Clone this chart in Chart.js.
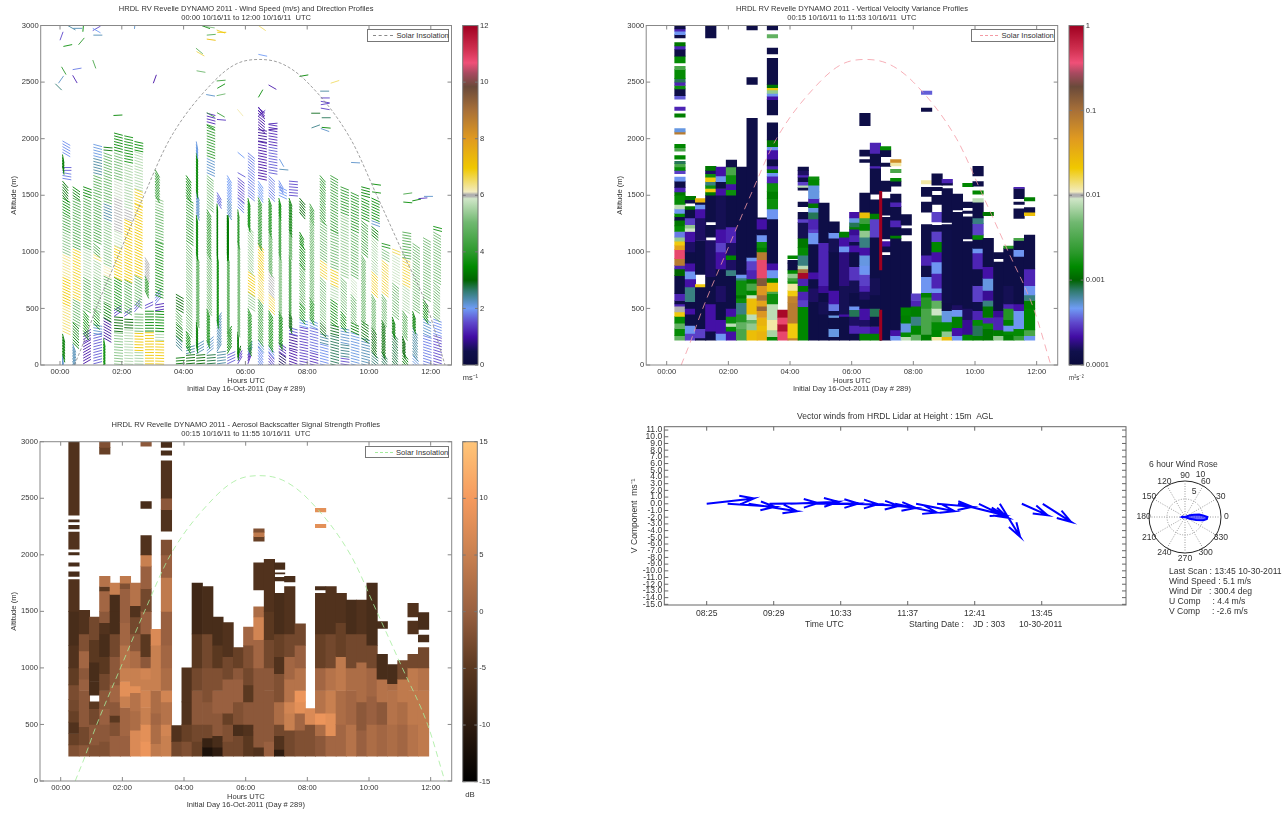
<!DOCTYPE html>
<html>
<head>
<meta charset="utf-8">
<title>HRDL RV Revelle DYNAMO 2011</title>
<script src="https://cdn.jsdelivr.net/npm/chart.js@4"></script>
<style>
	html, body { margin: 0; padding: 0; background: #fff; }
	body { position: relative; width: 1286px; height: 813px; overflow: hidden; font-family: "Liberation Sans", Arial, sans-serif; color: #333; }
	canvas { position: absolute; filter: blur(0.35px); }
	.txt { position: absolute; font-size: 8.6px; line-height: 10px; white-space: pre; }
	.legend { position: absolute; background: #fff; border: 1px solid #777; box-sizing: border-box; font-size: 7.6px; line-height: 11px; }
	.legend i { position: absolute; top: 5px; height: 0; border-top: 1px dashed; }
	.legend span { position: absolute; top: 0; white-space: pre; }
</style>
</head>
<body>
<script>

/*
 * DATA
 */
const hourTicks = [0, 2, 4, 6, 8, 10, 12];
const altitudeTicks = [0, 500, 1000, 1500, 2000, 2500, 3000];

const solarHours = [0.47, 0.75, 1.17, 1.94, 2.72, 3.56, 4.96, 5.7, 6.45, 7.2, 8.0, 9.4, 10.25, 11.08, 11.9, 12.46];
const solarAltitude = [0, 190, 500, 1000, 1500, 2000, 2500, 2660, 2700, 2660, 2500, 2000, 1500, 1000, 500, 0];

// wind speed / direction profiles: each band is [top altitude, speed m/s, stick angle deg], null speed = no return
const windHours = [0.08, 0.41, 0.75, 1.08, 1.41, 1.75, 2.08, 2.41, 2.75, 3.08, 3.41, 3.75, 4.08, 4.41, 4.75, 5.08, 5.41, 5.75, 6.08, 6.41, 6.75, 7.08, 7.41, 7.75, 8.08, 8.41, 8.75, 9.08, 9.41, 9.75, 10.08, 10.41, 10.75, 11.08, 11.41, 11.75, 12.08];
const windBands = [
	[[100,2.2,-85],[300,3.3,-75],[550,6.5,-25],[800,7,-25],[1000,6.4,-25],[1200,5.2,-25],[1350,4.4,-25],[1500,3.6,-30],[1650,3.2,-50],[1720,1.8,-10],[1760,1.6,0],[1880,3.3,-80],[2000,1.9,-30]],
	[[200,2.3,-70],[380,3.3,-45],[600,4.8,-30],[1050,6.8,-25],[1500,4.5,-25],[1600,3.4,-35]],
	[[200,1,30],[280,1.2,30],[500,3.5,-50],[800,4.6,-30],[1050,5.6,-25],[1500,4.5,-25],[1600,3.4,-20]],
	[[280,1.6,15],[370,2.2,-10],[500,3.5,-45],[800,5,-30],[950,5.5,-30],[1000,6.5,-25],[1100,4.5,-40],[1500,4.4,-25],[1700,4.6,-20],[1850,2.4,-15],[1960,2.1,-15]],
	[[240,3.6,-80],[420,0.9,-30],[560,3.3,-30],[800,4.8,-25],[900,6.2,-25],[1300,5.2,-25],[1450,2.4,-22],[1900,4.8,-20],[1950,3.2,-5]],
	[[300,5.2,-5],[430,3,-5],[500,1.4,35],[780,3.6,-30],[1060,6.9,-25],[1200,5.8,-25],[1500,6,-22],[1650,5.9,-22],[1900,5,-18],[2060,3.4,-15]],
	[[330,5.6,-3],[430,3,-3],[480,1.5,35],[760,4.5,-30],[1300,7,-25],[1400,6,-22],[1800,5.5,-18],[2050,3.6,-12]],
	[[130,5.5,-2],[300,7,-2],[470,5,-2],[540,1.6,50],[800,4.8,-30],[1430,7,-25],[1560,6.8,-22],[1900,5.6,-18],[2000,3.5,-12]],
	[[300,7,0],[500,3.4,0],[540,1.5,25],[660,null,0],[800,4,-65],[960,6,-60]],
	[[220,6.9,-2],[300,5.6,-2],[480,3.5,-3],[540,1.2,10],[620,1.8,50],[1100,3.7,-22],[1400,4.8,-20],[1500,5.3,-22],[1750,4,-60]],
	[],
	[[70,3.2,5],[180,null,0],[260,2.5,-45],[380,3.2,-40],[500,4.4,-45],[640,3,-30]],
	[[100,3,5],[170,2.4,15],[300,3.5,-60],[1100,5,-45],[1500,4,-35],[1700,3.4,-55]],
	[[100,3,5],[180,2.3,30],[400,3.3,-80],[1000,4.6,-70],[1350,3.4,-80],[1550,2.2,-70],[1900,3.4,-80],[1980,2.1,-80]],
	[[100,2.8,5],[220,2.2,40],[500,3.8,-70],[1000,5,-55],[1400,4,-60],[1700,5,-40],[1850,2.2,-25],[2150,4,-20],[2250,1.2,-15]],
	[[120,2.4,8],[400,2.3,60],[1000,3.6,-80],[1450,3.3,-85],[1530,1.7,-60]],
	[[100,1.6,25],[300,3.4,60],[1000,4.6,-75],[1350,3.3,-85],[1500,2.2,-60],[1700,2,-60]],
	[[70,1.4,60],[120,3,70],[320,3.3,-85],[1100,5,-75],[1400,4,-80],[1480,1.8,-45],[1680,1.5,-40]],
	[[90,1.2,70],[150,2.2,60],[520,3.8,-65],[650,5.3,-35],[850,6.9,-35],[1250,5.4,-50],[1500,3.5,-75],[1880,1.8,-40]],
	[[170,1.9,-55],[230,2.2,-50],[600,4.2,-55],[800,6.6,-50],[1080,6.9,-50],[1500,4,-65],[1650,2,-55],[1980,1,-12],[2100,0.9,-10],[2300,1,-40]],
	[[120,1.5,-50],[180,1.9,-50],[500,3.6,-60],[650,6.7,-45],[850,6,-50],[1200,4.8,-65],[1500,3.8,-70],[1700,1.8,-45],[1950,1.6,-10],[2130,1.2,-10]],
	[[120,0.6,-35],[200,1.2,-35],[500,3.4,-65],[1000,5.2,-70],[1350,4.2,-75],[1500,3.5,-75],[1580,2,-25],[1650,1.9,-60]],
	[[150,1,-20],[280,0.9,-15],[350,1.6,-15],[500,3,-70],[1000,4.4,-75],[1200,4.7,-70],[1500,3.3,-70],[1650,1.5,-5]],
	[[350,1.4,-12],[420,2,-15],[560,3.6,-50],[900,4.6,-50],[1100,3.4,-50],[1200,3.4,-60],[1350,null,0],[1500,3,-50]],
	[[130,1.3,-15],[350,1.7,-15],[420,2.1,-25],[600,3.8,-60],[1300,5,-60],[1450,4.2,-60]],
	[[200,1.9,-15],[300,2.4,-15],[400,3,-45],[800,5,-45],[950,6.7,-35],[1300,5,-35],[1700,4,-50]],
	[[280,2.7,-15],[380,2.9,-15],[600,3.6,-35],[720,5.6,-25],[870,6.8,-25],[1200,5,-22],[1700,4.2,-30]],
	[[80,1.5,-8],[200,2.5,-8],[350,2.2,-12],[500,3.5,-50],[800,5,-45],[1350,5.3,-25],[1580,4,-22]],
	[[300,2.1,-15],[400,3.3,-25],[650,5,-50],[800,5.8,-45],[1200,4.8,-30],[1550,3.9,-25]],
	[[240,2.3,-15],[400,3.1,-35],[1000,5,-60],[1300,4.2,-40],[1500,3.6,-25],[1600,3.4,-15]],
	[[130,2.6,-40],[350,3,-55],[650,5,-60],[850,6.8,-45],[1150,5.5,-45],[1250,3.3,-40],[1300,2.2,-20],[1500,3.5,-25]],
	[[120,2.7,-50],[400,3.1,-65],[650,5,-55],[950,6.7,-40],[1050,5.2,-30],[1080,3.8,-15]],
	[[300,2.8,-50],[450,3.3,-70],[750,5,-40],[1000,5.8,-30],[1050,6.6,-22]],
	[[130,3.3,-50],[280,3,-70],[500,4.5,-55],[720,5.6,-35],[950,6.7,-28],[1180,4.6,-10]],
	[[100,2.1,-45],[350,2.4,-55],[500,3.3,-70],[1100,5,-35]],
	[[280,1.8,-18],[430,2.2,-25],[600,3.4,-55],[1150,5,-30]],
	[[280,1.5,-18],[430,1.9,-20],[750,5,-40],[1200,5,-30],[1250,3.6,-15]]
];

// single sticks above the profiles: [hour, altitude, speed, angle]
const looseSticks = [
	[0,2870,1.5,70],[0.11,2815,3.6,12],[0.6,2830,4,50],[0.25,3000,2.4,-30],[0.43,2975,2.3,0],[0.74,2945,3.5,85],[1.06,2955,1.5,30],[1.06,2975,2,-30],[1.08,2915,2.3,0],[2.41,2970,2.2,85],
	[1.06,2695,4.5,-70],[0.05,2635,4,-60],[0.41,2610,1.8,10],[0.41,2560,1.2,-60],[-0.05,2490,2.2,55],[-0.15,2485,2.6,-45],[3.02,2490,1,70],[4.4,2800,4.8,-40],[4.42,2770,6.6,-30],[4.58,3000,3.4,-20],
	[4.72,2990,5.2,-8],[4.75,2915,4.6,5],[5.07,2960,6.8,-20],[5.09,2940,7,0],[4.75,2880,7.2,-8],[4.42,2600,5,-10],[5.07,2510,4.2,5],[5.09,2445,3.6,30],[5.07,2380,5,12],[4.73,2390,2.2,-10],
	[6.42,3000,6.5,-35],[6.42,2745,2,-12],[6.75,2475,1.1,-30],[6.42,2365,3.6,60],[5.74,2260,6.2,-50],[7.75,2550,3.4,10],[8.76,2490,6.5,18],[8.42,2420,2.4,0],[8.13,2225,2.9,0],[8.14,2095,2.5,20],
	[8.47,2100,3.4,-5],[8.47,2185,2.7,0],[8.44,2090,2.2,-20],[8.44,2360,1.4,0],[8.44,2330,1.4,-10],[8.44,2300,1.4,10],[8.44,2270,1.4,-10],[9.42,1790,2.2,-3],[10.1,1600,3.5,-8],[10.1,1530,3.6,-8],
	[11.11,1510,4.4,8],[11.78,1490,2.2,0],[11.11,1440,3.5,-5],[11.4,1450,3.4,12],[11.6,1470,1.3,5],[1.73,2205,3.4,3],[6.42,2200,1.2,40],[6.42,2250,1,-50],[6.75,2130,1.2,5],[6.75,2080,1,5],
	[6.42,2280,1.1,-55],[5.08,2230,4.2,-30],[5.08,2170,1.3,-5],[4.75,2230,4.3,-30],[4.75,2120,3.6,-30],[5.75,1880,2,-40],[5.75,1700,1.6,-30],[7.1,1820,2.1,-60],[7.1,1730,2.3,-5]
];

// vertical velocity variance: bands are [top altitude, variance m2/s2], null = no return
const varianceHours = [0.43, 0.77, 1.1, 1.43, 1.77, 2.1, 2.43, 2.77, 3.1, 3.43, 3.77, 4.1, 4.43, 4.77, 5.1, 5.43, 5.77, 6.1, 6.43, 6.77, 7.1, 7.43, 7.77, 8.1, 8.43, 8.77, 9.1, 9.43, 9.77, 10.1, 10.43, 10.77, 11.1, 11.43, 11.77];
const varianceBands = [
	[[260,4e-3],[320,1.5e-3],[370,4e-3],[430,1.5e-3],[470,2e-2],[520,1e-2],[540,2.5e-4],[570,1.3e-4],[630,2.5e-4],[790,1.3e-4],[850,1e-3],[880,2.5e-4],[940,8e-2],[1020,4e-1],[1060,4e-2],[1095,2e-2],[1130,6e-3],[1180,4e-4],[1230,1.5e-3],[1280,1.2e-3],[1310,1.3e-4],[1340,1.5e-3],[1380,4.5e-4],[1420,8e-3],[1500,1.5e-3],[1530,1.2e-3],[1570,2.5e-4],[1625,1.3e-4],[1660,4.5e-4],[1690,null],[1720,3e-4],[1750,1.5e-3],[1780,3e-3],[1800,8e-4],[1820,null],[1850,1.4e-3],[1890,null],[1920,3e-3],[1950,1.4e-3],[2040,null],[2060,8e-2],[2090,5e-4],[2190,null],[2220,1.3e-3],[2250,null],[2280,2.5e-4],[2350,null],[2380,3.5e-4],[2440,1.3e-4],[2470,1.6e-3],[2500,2.5e-4],[2530,8e-4],[2610,1.5e-3],[2640,3e-3],[2670,null],[2730,1.5e-3],[2790,1.3e-4],[2820,2.5e-4],[2850,1.2e-3],[2890,null],[2920,1.3e-4],[2950,4.5e-4],[2970,2.5e-4],[3000,1.3e-4]],
	[[280,3e-4],[350,4.5e-4],[450,1.3e-4],[500,2.2e-4],[560,1.3e-4],[690,7e-4],[760,2.2e-4],[830,4.5e-4],[900,2.2e-4],[1000,1.3e-4],[1090,1.6e-4],[1180,2.2e-4],[1210,9e-3],[1240,6e-3],[1300,3e-4],[1375,1.3e-4],[1400,1.2e-3],[1430,null],[1460,1.3e-4],[1490,1.2e-3]],
	[[240,1.3e-4],[320,3e-4],[690,1.3e-4],[710,2e-2],[800,null],[1100,1.3e-4],[1300,1.6e-4],[1380,2.2e-4],[1420,4.5e-4],[1440,1.3e-4],[1470,3e-2]],
	[[300,1.3e-4],[540,2.2e-4],[780,1.3e-4],[1100,1.6e-4],[1130,null],[1235,1.3e-4],[1265,null],[1500,1.3e-4],[1530,1.2e-3],[1560,2e-2],[1590,1.6e-3],[1620,7e-4],[1660,2e-2],[1690,1.6e-3],[1720,1.6e-4],[1755,1.2e-3],[2890,null],[3000,1.3e-4]],
	[[280,4.5e-4],[400,2.2e-4],[560,1.3e-4],[700,1.6e-4],[850,1.3e-4],[1000,2.2e-4],[1080,3e-4],[1200,2.2e-4],[1500,1.5e-4],[1560,2.2e-4],[1620,1.3e-4],[1670,4.5e-4],[1750,2.2e-4]],
	[[300,2.2e-4],[340,1.5e-3],[370,8e-3],[430,1.6e-3],[500,2.2e-4],[790,1.3e-4],[840,7e-4],[930,1.6e-4],[970,1.4e-3],[1080,1.6e-4],[1220,2.5e-4],[1500,1.3e-4],[1550,1.6e-3],[1600,2.2e-4],[1680,1.6e-3],[1750,3e-3],[1810,1.3e-4]],
	[[320,3e-3],[380,4e-3],[450,2e-3],[550,7e-4],[590,1.6e-3],[620,1.2e-3],[750,1.6e-3],[770,7e-4],[800,4.5e-4],[1750,1.3e-4]],
	[[310,2.5e-2],[370,6e-3],[400,4e-3],[450,8e-3],[590,2.5e-2],[620,9e-3],[660,1.4e-3],[720,3e-3],[760,1.2e-3],[840,2.5e-4],[920,3e-4],[950,4.5e-4],[2180,1.3e-4],[2480,null],[2540,1.3e-4],[2960,null],[3000,1.3e-4]],
	[[300,3e-2],[350,2.5e-2],[420,3e-2],[480,5e-2],[520,1.2e-1],[570,4e-2],[620,1e-1],[700,5e-2],[770,1.5e-1],[930,4e-1],[1000,8e-2],[1040,1.3e-3],[1090,1.6e-3],[1150,4.5e-4],[1200,1.3e-4],[1290,2.2e-4],[1300,1.3e-4]],
	[[250,1.4e-3],[310,7e-3],[400,1.2e-2],[540,8e-3],[630,1.6e-3],[650,3e-3],[730,2.5e-2],[770,1.4e-3],[840,4.5e-4],[900,2.2e-4],[1290,1.3e-4],[1380,4.5e-4],[1470,1.6e-3],[1535,1.3e-3],[1609,1.6e-3],[1668,2.5e-4],[1700,4.5e-4],[1730,1.2e-3],[1760,2.5e-4],[1820,1.3e-4],[1900,2.2e-4],[1930,4.5e-4],[1990,1.2e-3],[2140,1.3e-4],[2210,null],[2345,1.3e-4],[2375,2.2e-4],[2400,4.5e-4],[2430,6e-3],[2450,2e-2],[2480,1.2e-3],[2710,1.3e-4],[2750,null],[2800,1.3e-4],[2890,null],[2920,4e-3],[2960,null],[3000,1.3e-4]],
	[[300,4e-1],[360,8e-1],[420,4e-1],[485,9e-1]],
	[[240,7e-2],[370,2e-2],[550,8e-2],[610,7e-2],[660,2e-2],[720,1.2e-2],[740,1.6e-3],[770,2.5e-3],[810,6e-3],[840,1.4e-3],[900,1.3e-4],[925,1.3e-4],[940,null],[965,1.4e-3]],
	[[515,1.4e-3],[575,3e-4],[650,2.5e-4],[700,1.2e-3],[765,2.5e-4],[815,9e-1],[850,1e-1],[880,8e-3],[970,7e-4],[1040,1.5e-3],[1120,1.2e-3],[1260,1.5e-4],[1290,3e-4],[1350,1.3e-4],[1400,null],[1440,1.3e-4],[1545,null],[1570,1.3e-4],[1590,8e-3],[1620,3e-4],[1660,1.3e-4],[1680,2.5e-4],[1720,1.6e-4],[1750,1.3e-4]],
	[[560,1.3e-4],[680,1.6e-4],[760,1.3e-4],[820,2.2e-4],[1070,1.3e-4],[1170,4.5e-4],[1200,3e-4],[1290,2.5e-4],[1350,8e-4],[1390,5e-4],[1430,1.2e-3],[1470,2.5e-4],[1530,5e-4],[1590,5e-4],[1640,1.4e-3],[1662,1.6e-3]],
	[[450,1.3e-4],[560,1.5e-4],[640,1.3e-4],[700,2e-4],[1080,2.5e-4],[1430,1.3e-4]],
	[[250,1.3e-4],[320,5e-4],[370,1.3e-4],[420,1.3e-4],[440,5e-4],[480,1.4e-4],[540,4e-4],[660,2.2e-4],[1000,1.3e-4],[1120,1.5e-4],[1170,4.5e-4],[1265,1.3e-4]],
	[[430,1.3e-4],[450,2.2e-4],[700,1.5e-4],[1000,1.8e-4],[1050,4.5e-4],[1130,2.2e-4],[1175,1.3e-3]],
	[[280,1.3e-4],[350,2.5e-4],[430,1.6e-4],[490,8e-4],[520,4.5e-4],[640,1.3e-4],[750,1.5e-4],[870,2.8e-4],[1000,1.3e-4],[1060,2.2e-4],[1090,1.4e-4],[1150,2.5e-4],[1200,2e-4],[1220,1.3e-3],[1260,8e-4],[1300,5e-4],[1350,2.2e-4]],
	[[280,1.3e-3],[340,2.5e-4],[400,1.6e-4],[500,2.2e-4],[580,1.3e-4],[650,1.6e-4],[700,2.5e-4],[800,3e-4],[880,4.5e-4],[970,5e-4],[1040,2.2e-4],[1130,7e-4],[1190,6e-3],[1250,1.4e-3],[1300,2.5e-3],[1350,2.5e-2],[1520,1.3e-4],[1790,null],[1815,1.3e-4],[1845,null],[1900,1.3e-4],[2115,null],[2225,1.3e-4]],
	[[280,1.3e-3],[340,2.2e-4],[430,1.3e-4],[500,8e-4],[620,1.3e-4],[770,1.5e-4],[1130,1.3e-4],[1290,3e-4],[1340,1.3e-3],[1460,1.3e-4],[1510,null],[1740,1.3e-4],[1760,2.5e-4],[1870,1.3e-4],[1960,2.5e-4]],
	[[970,1.3e-4],[1000,null],[1050,1.3e-4],[1090,2.2e-4],[1115,null],[1305,1.3e-4],[1325,null],[1470,1.3e-4],[1535,null],[1625,1.3e-4],[1755,null],[1785,1.3e-4],[1840,null],[1900,1.3e-4],[1930,1.5e-3]],
	[[260,4.5e-4],[310,2.2e-4],[1120,1.3e-4],[1145,1.3e-3],[1220,1.3e-4],[1280,2.5e-4],[1400,1.3e-4],[1440,2.5e-4],[1510,1.3e-4],[1580,null],[1625,1.3e-4],[1650,1.5e-3],[1700,null],[1730,3e-3],[1760,null],[1790,1.2e-2],[1815,6e-2]],
	[[250,8e-3],[290,1.5e-3],[370,5e-4],[440,1.3e-3],[510,1.4e-3],[1090,1.3e-4],[1150,null],[1205,1.3e-4],[1235,null],[1330,1.3e-4]],
	[[270,4e-3],[350,1.4e-3],[430,7e-4],[520,1.3e-3],[570,2.5e-4],[630,3e-4]],
	[[270,1.3e-3],[500,3e-3],[600,2e-3],[640,1.3e-3],[780,4.5e-4],[880,1.4e-4],[970,2.5e-4],[1240,1.3e-4],[1350,null],[1440,1.3e-4],[1490,null],[1570,1.3e-4],[1600,null],[1630,1.2e-2],[2240,null],[2270,1.3e-4],[2390,null],[2420,3.5e-4]],
	[[250,1.2e-2],[310,1.4e-3],[380,1.5e-3],[440,2.5e-3],[500,9e-3],[570,4e-3],[640,2.5e-4],[680,4.5e-4],[810,2.5e-4],[910,4.5e-4],[1000,2.2e-4],[1090,1.4e-3],[1180,3e-4],[1235,1.3e-4],[1265,null],[1350,3e-4],[1420,null],[1500,1.3e-4],[1540,null],[1570,1.3e-4],[1590,null],[1690,1.3e-4]],
	[[250,2.5e-2],[300,6e-3],[380,1.5e-3],[480,5e-4],[550,1.3e-4],[1200,1.4e-4],[1240,1.3e-4],[1260,null],[1560,1.3e-4],[1590,null],[1610,1.3e-4],[1640,2.5e-4]],
	[[260,4.5e-4],[330,2.2e-4],[430,1.3e-3],[490,4.5e-4],[530,1.6e-4],[1350,1.3e-4],[1370,null],[1510,1.3e-4]],
	[[270,1.4e-3],[400,2e-4],[500,1.6e-4],[1090,1.3e-4],[1115,null],[1310,1.3e-4],[1340,null],[1360,1.3e-4],[1390,null],[1440,1.3e-4],[1575,null],[1605,1.4e-3]],
	[[260,1.3e-3],[350,8e-4],[400,1.5e-3],[480,2.5e-4],[560,1.4e-4],[700,3e-4],[850,1.3e-4],[990,2.5e-4],[1030,4.5e-4],[1110,1.3e-4],[1150,1.5e-3],[1250,3e-4],[1300,7e-4],[1440,1.3e-4],[1470,8e-3],[1510,null],[1540,1.4e-3],[1580,null],[1620,1.3e-4],[1670,null],[1755,1.3e-4]],
	[[320,1.2e-3],[370,1.6e-3],[420,2.5e-4],[520,1.2e-3],[570,7e-4],[660,2e-4],[765,5e-4],[870,2.2e-4],[1120,1.3e-4],[1320,null],[1350,1.2e-3]],
	[[260,6e-3],[310,1.3e-3],[420,2.5e-4],[480,2e-4],[910,1.3e-4],[940,null],[994,1.3e-4]],
	[[270,1.3e-3],[300,1.5e-3],[350,4.5e-4],[400,1.3e-3],[500,2e-3],[540,2.5e-4],[700,1.5e-4],[1030,1.3e-4],[1050,2e-3]],
	[[260,2.5e-3],[320,1.5e-3],[480,4.5e-4],[540,2.2e-4],[960,1.3e-4],[1020,4.5e-4],[1100,1.3e-4],[1120,3e-3],[1295,null],[1380,1.3e-4],[1420,null],[1440,1.3e-4],[1470,null],[1560,1.3e-4],[1570,2.5e-4]],
	[[260,4.5e-4],[310,3e-3],[500,1.4e-3],[570,1.3e-3],[620,7e-4],[700,4.5e-4],[850,2.5e-4],[1147,1.3e-4],[1320,null],[1350,2.5e-2],[1390,1.3e-4],[1450,null],[1480,1.3e-3]]
];

// the thin saturated profile near 07:00: [bottom, top, variance]
const spikeHour = 6.94;
const spikeBands = [[220, 485, 1], [840, 1535, 1]];

// aerosol backscatter: bands are [top altitude, dB], null = no return
const backscatterHours = [0.43, 0.77, 1.1, 1.43, 1.77, 2.1, 2.43, 2.77, 3.1, 3.43, 3.77, 4.1, 4.43, 4.77, 5.1, 5.43, 5.77, 6.1, 6.43, 6.77, 7.1, 7.43, 7.77, 8.1, 8.43, 8.77, 9.1, 9.43, 9.77, 10.1, 10.43, 10.77, 11.1, 11.43, 11.77];
const backscatterBands = [
	[[320,-2],[420,-4],[520,-6],[620,-4],[720,-3],[850,-2.5],[1000,-4.5],[1200,-6],[1500,-7],[1780,-6],[1810,null],[1850,-7],[1900,null],[1930,-7],[2000,null],[2020,-7],[2050,null],[2200,-6],[2230,null],[2260,-7],[2290,null],[2310,-7],[2350,null],[3000,-6]],
	[[320,-1],[480,-3],[640,-1],[800,-1],[900,0],[1000,-1],[1150,1],[1300,-2],[1510,-6]],
	[[320,-2],[500,-1],[640,-3],[700,-5],[760,null],[880,-7],[1050,-7],[1250,-5],[1450,-3]],
	[[350,-2],[500,-1],[640,0],[800,-1],[950,-3],[1100,-5],[1300,-7],[1400,-6],[1500,-1],[1680,1],[1720,-5],[1810,3],[2890,null],[2950,-4],[3000,-2]],
	[[400,0],[520,-2],[580,-5],[700,-1],[850,1],[1100,-1],[1300,-3],[1500,-7],[1650,-7],[1750,5]],
	[[400,0],[650,1],[750,5],[880,8],[1000,5],[1200,3],[1400,1],[1700,0],[1750,-2],[1810,4]],
	[[450,7],[620,2],[780,3],[840,8],[1000,5],[1150,2],[1300,-1],[1450,-3],[1550,-6],[1750,3]],
	[[350,9],[500,8],[650,5],[800,6],[900,5],[1000,6],[1100,-1],[1300,-5],[1500,0],[1700,-3],[1900,0],[2000,5],[2170,-6],[2410,null],[2470,-7],[2960,null],[3000,-1]],
	[[330,4],[500,2],[600,1],[800,2],[1000,5],[1200,5],[1340,7]],
	[[400,5],[500,6],[700,3],[800,6],[1000,2],[1200,1],[1500,0],[1800,4],[2000,0],[2130,-2],[2210,null],[2400,-6],[2500,-1],[2830,-6],[2880,null],[2920,-7],[2950,null],[3000,-7]],
	[[350,-3],[490,-6]],
	[[350,-2],[500,-4],[700,-6],[1000,-6]],
	[[350,-4],[500,-3],[800,-1],[1000,-3],[1300,-5],[1750,-8]],
	[[300,-12],[380,-9],[500,-3],[700,-1],[1000,-2],[1300,-3],[1720,-7]],
	[[300,-10],[400,-7],[600,-1],[800,0],[1000,-2],[1200,-5],[1450,-7]],
	[[350,-3],[500,-2],[600,-4],[900,0],[1100,-3],[1400,-6]],
	[[400,-3],[500,-7],[700,-2],[900,0],[1000,-1],[1180,-4]],
	[[400,-5],[500,-6],[700,-1],[850,-5],[1000,-3],[1200,-2],[1360,1]],
	[[300,-6],[450,-1],[700,-1],[1000,-1],[1250,1],[1450,6],[1540,2],[1690,null],[1930,-6],[2120,null],[2160,-4],[2200,4],[2230,-2]],
	[[350,0],[500,-1],[800,-1],[1000,-1],[1250,-3],[1500,-5],[1960,-6]],
	[[280,-10],[400,-6],[500,-3],[700,2],[950,-2],[1100,-6],[1300,-4],[1660,-7],[1770,null],[1800,-7],[1830,null],[1840,-7],[1870,null],[1930,-7]],
	[[450,-3],[600,5],[700,6],[900,3],[1100,1],[1300,-3],[1720,-6],[1760,null],[1810,-7]],
	[[450,-2],[600,1],[700,8],[800,9],[1000,3],[1200,0],[1390,-3]],
	[[500,-2],[640,7]],
	[[400,-1],[500,2],[600,9],[800,3],[1000,1],[1300,-4],[1660,-6],[1690,null],[1720,-7],[2240,null],[2270,8],[2380,null],[2410,8]],
	[[400,1],[600,8],[800,5],[1000,3],[1300,-3],[1720,-6]],
	[[500,1],[800,2],[1100,4],[1400,-4],[1660,-6]],
	[[500,3],[800,1],[1000,2],[1300,-3],[1600,-7]],
	[[450,0],[700,-1],[1050,2],[1300,-3],[1600,-6]],
	[[500,2],[750,0],[1000,1],[1200,-3],[1750,-7]],
	[[500,1],[700,-1],[900,3],[1120,-7],[1350,null],[1410,-7]],
	[[500,2],[800,3],[860,2],[1030,-7]],
	[[500,1],[700,2],[900,4],[1065,-3]],
	[[500,3],[800,4],[1000,4],[1120,-3],[1300,null],[1415,-6],[1450,null],[1570,-6]],
	[[500,4],[800,4],[1000,3],[1180,-3],[1230,null],[1290,-7],[1340,null],[1490,-7]]
];

const profileBase = 220;

// vector winds at 15 m
const vectorTickMinutes = [0, 64, 128, 192, 256, 320];
const vectorTickLabels = ['08:25', '09:29', '10:33', '11:37', '12:41', '13:45'];
const vectorValueTicks = [11, 10, 9, 8, 7, 6, 5, 4, 3, 2, 1, 0, -1, -2, -3, -4, -5, -6, -7, -8, -9, -10, -11, -12, -13, -14, -15];
const vectorMinutes = [0, 20, 40, 60, 80, 100, 120, 140, 160, 180, 200, 220, 240, 260, 280, 301, 321];
const vectorU = [7, 7, 7.2, 7.2, 7.1, 7, 6.8, 6.8, 6.2, 6.2, 5.7, 5.2, 6.9, 4.3, 3, 3.8, 4.2];
const vectorV = [0.8, -0.45, -1.1, 0.1, 0.3, 0.05, -0.05, -0.3, -0.6, -1.3, -1.1, -0.45, -1.7, -2.1, -4.9, -1.7, -2.7];

// wind rose radius every 5 degrees clockwise, starting from 90
const roseLabels = [90, 85, 80, 75, 70, 65, 60, 55, 50, 45, 40, 35, 30, 25, 20, 15, 10, 5, 0, 355, 350, 345, 340, 335, 330, 325, 320, 315, 310, 305, 300, 295, 290, 285, 280, 275, 270, 265, 260, 255, 250, 245, 240, 235, 230, 225, 220, 215, 210, 205, 200, 195, 190, 185, 180, 175, 170, 165, 160, 155, 150, 145, 140, 135, 130, 125, 120, 115, 110, 105, 100, 95];
const roseRadius = [0, 0, 0, 0, 0, 0, 0, 0, 0, 0, 0, 0, 0, 0, 1.5, 2.5, 4, 5, 6.2, 6.1, 5.2, 3.2, 1.4, 0.6, 0, 0, 0, 0, 0, 0, 0, 0, 0, 0, 0, 0, 0, 0, 0, 0, 0, 0, 0, 0, 0, 0, 0, 0, 0, 0, 0, 0, 0, 0.7, 0.9, 0.8, 0.4, 0, 0, 0, 0, 0, 0, 0, 0, 0, 0, 0, 0, 0, 0, 0];
const roseSpokes = [0, 30, 60, 90, 120, 150, 180, 210, 240, 270, 300, 330];
const roseRings = [[5, 7.5], [10, 12.6]];

const infoLines = ['Last Scan : 13:45 10-30-2011', 'Wind Speed : 5.1 m/s', 'Wind Dir   : 300.4 deg', 'U Comp     : 4.4 m/s', 'V Comp     : -2.6 m/s'];


/*
 * COLOURS
 */
const rainbowStops = [[0,'#0a0a3c'],[0.04,'#10104c'],[0.083,'#420ca4'],[0.125,'#5f48cc'],[0.167,'#6f9cf5'],[0.22,'#2e7a6a'],[0.25,'#006400'],[0.29,'#008a00'],[0.33,'#2a982a'],[0.42,'#70b870'],[0.49,'#d0e6c8'],[0.497,'#b0b0b0'],[0.503,'#b0b0b0'],[0.51,'#f2ecc0'],[0.58,'#f0c800'],[0.667,'#e09a20'],[0.75,'#a87038'],[0.82,'#6a4a3a'],[0.86,'#a84a60'],[0.89,'#f05078'],[0.93,'#d03050'],[1,'#a00020']];
const copperStops = [[0,'#000000'],[0.167,'#2e1c10'],[0.333,'#5a3820'],[0.5,'#996040'],[0.667,'#c88050'],[0.833,'#f59a5e'],[1,'#ffc578']];

function hexToRgb(hex) {
	return [1, 3, 5].map(i => parseInt(hex.substr(i, 2), 16));
}

function stopColor(stops, f) {
	f = Math.min(1, Math.max(0, f));
	for (let i = 1; i < stops.length; i++) {
		if (f <= stops[i][0]) {
			const a = hexToRgb(stops[i - 1][1]), b = hexToRgb(stops[i][1]);
			const t = (f - stops[i - 1][0]) / (stops[i][0] - stops[i - 1][0]);
			return 'rgb(' + a.map((v, k) => Math.round(v + (b[k] - v) * t)).join(',') + ')';
		}
	}
	return stops[stops.length - 1][1];
}


/*
 * HELPERS
 */
Chart.defaults.font.family = '"Liberation Sans", Arial, sans-serif';
Chart.defaults.font.size = 7.6;
Chart.defaults.color = '#333';
Chart.defaults.animation = false;
Chart.defaults.responsive = false;
Chart.defaults.plugins.legend.display = false;
Chart.defaults.plugins.tooltip.enabled = false;

// matlab style box with ticks pointing inward on all sides
const boxPlugin = {
	id: 'box',
	afterLayout(chart) {
		// centre the title over the plot, not the canvas
		const t = chart.titleBlock;
		if (t && t.options.display) {
			t.left = chart.chartArea.left;
			t.right = chart.chartArea.right;
		}
	},
	afterDatasetsDraw(chart, args, opts) {
		const { ctx, chartArea: a, scales } = chart;
		const len = opts.tick === undefined ? 4 : opts.tick;
		ctx.save();
		ctx.strokeStyle = opts.color || '#888';
		ctx.lineWidth = 1;
		ctx.strokeRect(a.left, a.top, a.right - a.left, a.bottom - a.top);
		ctx.beginPath();
		if (!opts.noX) {
			scales.x.ticks.forEach(t => {
				const x = scales.x.getPixelForValue(t.value);
				ctx.moveTo(x, a.bottom); ctx.lineTo(x, a.bottom - len);
				ctx.moveTo(x, a.top); ctx.lineTo(x, a.top + len);
			});
		}
		scales.y.ticks.forEach(t => {
			const y = scales.y.getPixelForValue(t.value);
			ctx.moveTo(a.left, y); ctx.lineTo(a.left + len, y);
			ctx.moveTo(a.right, y); ctx.lineTo(a.right - len, y);
		});
		ctx.stroke();
		ctx.restore();
	}
};

function addCanvas(left, top, width, height) {
	const c = document.createElement('canvas');
	c.width = width;
	c.height = height;
	c.style.left = left + 'px';
	c.style.top = top + 'px';
	c.style.width = width + 'px';
	c.style.height = height + 'px';
	document.body.appendChild(c);
	return c.getContext('2d');
}

function addText(left, top, text, css) {
	const d = document.createElement('div');
	d.className = 'txt';
	d.style.left = left + 'px';
	d.style.top = top + 'px';
	d.textContent = text;
	if (css) d.style.cssText += css;
	document.body.appendChild(d);
	return d;
}

function addLegend(left, top, right, bottom, lineLeft, lineRight, textLeft, color, dash) {
	const d = document.createElement('div');
	d.className = 'legend';
	d.style.cssText = `left:${left}px;top:${top}px;width:${right - left}px;height:${bottom - top}px`;
	const line = document.createElement('i');
	line.style.cssText = `left:${lineLeft - left}px;width:${lineRight - lineLeft}px;border-top:1px ${dash} ${color}`;
	const label = document.createElement('span');
	label.style.left = (textLeft - left) + 'px';
	label.textContent = 'Solar Insolation';
	d.appendChild(line);
	d.appendChild(label);
	document.body.appendChild(d);
}

function solarDataset(color, dash) {
	return {
		type: 'line',
		order: 0,
		data: solarHours.map((h, i) => ({ x: h, y: solarAltitude[i] })),
		borderColor: color,
		borderWidth: 0.8,
		borderDash: dash,
		cubicInterpolationMode: 'monotone',
		pointRadius: 0
	};
}

function hourLabel(h) {
	return String(h).padStart(2, '0') + ':00';
}

// a bar dataset with one floating bar per band
function bandDataset(hours, bands, toColor, thickness) {
	const data = [], colors = [];
	bands.forEach((column, i) => {
		let bottom = profileBase;
		column.forEach(([top, value]) => {
			if (value !== null) {
				data.push({ x: hours[i], y: [bottom, top] });
				colors.push(toColor(value));
			}
			bottom = top;
		});
	});
	return { type: 'bar', order: 1, data: data, backgroundColor: colors, barThickness: thickness, grouped: false };
}

function profileChart(p) {
	const w = p.width;
	const h = p.height;
	new Chart(addCanvas(p.left, p.top, w, h), {
		type: 'bar',
		data: { datasets: p.datasets },
		options: {
			layout: { padding: { right: w - (p.plotRight - p.left) } },
			plugins: {
				title: {
					display: true,
					text: p.title,
					color: '#333',
					font: { size: 7.55, weight: 'normal', lineHeight: 1.14 },
					padding: { top: p.plotTop - p.top - 17.2 - 3.5, bottom: 3.5 }
				},
				box: {}
			},
			scales: {
				x: {
					type: 'linear',
					offset: false,
					min: (p.plotLeft - p.zero) / p.perHour,
					max: (p.plotRight - p.zero) / p.perHour,
					afterFit: s => { s.height = h - (p.plotBottom - p.top); },
					afterBuildTicks: s => { s.ticks = hourTicks.map(v => ({ value: v })); },
					grid: { display: false, drawTicks: false },
					border: { display: false },
					ticks: { padding: 2, maxRotation: 0, autoSkip: false, callback: v => hourLabel(v) },
					title: {
						display: true,
						text: ['Hours UTC', 'Initial Day 16-Oct-2011 (Day # 289)'],
						color: '#333',
						font: { size: 7.55, lineHeight: 1.12 },
						padding: { bottom: h - (p.footY - p.top) - 4.2 }
					}
				},
				y: {
					min: 0,
					max: 3000,
					afterFit: s => { s.width = p.plotLeft - p.left; },
					afterBuildTicks: s => { s.ticks = altitudeTicks.map(v => ({ value: v })); },
					grid: { display: false, drawTicks: false },
					border: { display: false },
					ticks: { padding: 2, autoSkip: false, callback: v => String(v) },
					title: {
						display: true,
						text: 'Altitude (m)',
						color: '#333',
						font: { size: 7.6, lineHeight: 1.2 },
						padding: { top: p.yTitleX - p.left - 4.6 }
					}
				}
			}
		},
		plugins: [boxPlugin]
	});
}

function colorBar(c) {
	const left = Math.floor(c.plotLeft) - 1;
	const top = Math.floor(c.plotTop) - 6;
	const width = Math.ceil(c.plotRight - left) + 34;
	const height = Math.ceil(c.plotBottom - top) + 24;
	new Chart(addCanvas(left, top, width, height), {
		type: 'bar',
		data: {
			labels: [''],
			datasets: [{
				data: [[c.min, c.max]],
				barPercentage: 1,
				categoryPercentage: 1,
				backgroundColor: context => {
					const area = context.chart.chartArea;
					if (!area) return '#fff';
					const g = context.chart.ctx.createLinearGradient(0, area.bottom, 0, area.top);
					c.stops.forEach(s => g.addColorStop(s[0], stopColor(c.stops, s[0])));
					return g;
				}
			}]
		},
		options: {
			layout: { padding: { left: c.plotLeft - left, top: c.plotTop - top } },
			plugins: { box: { noX: true, tick: 3, color: '#777' } },
			scales: {
				x: {
					afterFit: s => { s.height = height - (c.plotBottom - top); },
					grid: { display: false, drawTicks: false },
					border: { display: false },
					ticks: { display: false },
					title: { display: true, text: c.unit, color: '#333', font: { size: 7.8 }, padding: { top: 3, bottom: 6 } }
				},
				y: {
					type: c.log ? 'logarithmic' : 'linear',
					position: 'right',
					min: c.min,
					max: c.max,
					afterFit: s => { s.width = width - (c.plotRight - left); },
					afterBuildTicks: s => { s.ticks = c.ticks.map(v => ({ value: v })); },
					grid: { display: false, drawTicks: false },
					border: { display: false },
					ticks: { padding: 2, autoSkip: false, callback: v => String(v) }
				}
			}
		},
		plugins: [boxPlugin]
	});
}


/*
 * WIND SPEED AND DIRECTION
 */
const stickHours = 0.29;
const stickMetres = 79;
const gateMetres = 25;

const stickPoints = [];
const stickColors = [];

function pushStick(hour, alt, speed, angle) {
	const rad = angle * Math.PI / 180;
	stickPoints.push({ x: hour, y: alt });
	stickColors.push(stopColor(rainbowStops, speed / 12));
	stickPoints.push({ x: hour + stickHours * Math.cos(rad), y: alt + stickMetres * Math.sin(rad) });
	stickColors.push(null);
	stickPoints.push({ x: hour, y: NaN });
	stickColors.push(null);
}

windBands.forEach((column, i) => {
	let bottom = 10;
	column.forEach(([top, speed, angle]) => {
		if (speed !== null) {
			for (let alt = bottom; alt < top; alt += gateMetres) pushStick(windHours[i], alt, speed, angle);
		}
		bottom = top;
	});
});
looseSticks.forEach(s => pushStick(s[0], s[1], s[2], s[3]));

profileChart({
	left: 0, top: 0, width: 492, height: 405,
	plotLeft: 40.7, plotRight: 451.5, plotTop: 25.5, plotBottom: 365,
	zero: 60, perHour: 30.9, footY: 389, yTitleX: 14.3,
	title: ['HRDL RV Revelle DYNAMO 2011 - Wind Speed (m/s) and Direction Profiles', '00:00 10/16/11 to 12:00 10/16/11  UTC'],
	datasets: [
		solarDataset('#888', [3, 2]),
		{
			type: 'line',
			order: 1,
			data: stickPoints,
			borderWidth: 0.9,
			pointRadius: 0,
			spanGaps: false,
			segment: { borderColor: ctx => stickColors[ctx.p0DataIndex] || 'transparent' }
		}
	]
});
colorBar({ plotLeft: 462.7, plotRight: 478, plotTop: 25.5, plotBottom: 365, stops: rainbowStops, min: 0, max: 12, ticks: [0, 2, 4, 6, 8, 10, 12], unit: 'ms\u207B\u00B9' });
addLegend(366.5, 29, 448.5, 42, 372, 392, 395.5, '#888', 'dashed');


/*
 * VERTICAL VELOCITY VARIANCE
 */
profileChart({
	left: 600, top: 0, width: 504, height: 405,
	plotLeft: 646.2, plotRight: 1057.7, plotTop: 25.5, plotBottom: 365,
	zero: 666.7, perHour: 30.83, footY: 389, yTitleX: 620,
	title: ['HRDL RV Revelle DYNAMO 2011 - Vertical Velocity Variance Profiles', '00:15 10/16/11 to 11:53 10/16/11  UTC'],
	datasets: [
		solarDataset('#f49aa4', [7, 5]),
		{
			type: 'bar',
			order: 1,
			data: spikeBands.map(b => ({ x: spikeHour, y: [b[0], b[1]] })),
			backgroundColor: spikeBands.map(b => stopColor(rainbowStops, (Math.log10(b[2]) + 4) / 4)),
			barThickness: 2.4,
			grouped: false
		},
		bandDataset(varianceHours, varianceBands, v => stopColor(rainbowStops, (Math.log10(v) + 4) / 4), 10.5)
	]
});
colorBar({ plotLeft: 1069, plotRight: 1083.7, plotTop: 25.5, plotBottom: 365, stops: rainbowStops, log: true, min: 0.0001, max: 1, ticks: [0.0001, 0.001, 0.01, 0.1, 1], unit: 'm\u00B2s\u207B\u00B2' });
addLegend(971, 29, 1055, 42, 979, 997, 1000.5, '#f49aa4', 'dashed');


/*
 * AEROSOL BACKSCATTER
 */
profileChart({
	left: 0, top: 415, width: 492, height: 398,
	plotLeft: 40, plotRight: 451.7, plotTop: 441.7, plotBottom: 781,
	zero: 60.7, perHour: 30.83, footY: 805, yTitleX: 14.3,
	title: ['HRDL RV Revelle DYNAMO 2011 - Aerosol Backscatter Signal Strength Profiles', '00:15 10/16/11 to 11:55 10/16/11  UTC'],
	datasets: [
		solarDataset('#a4ec9c', [6, 4]),
		bandDataset(backscatterHours, backscatterBands, v => stopColor(copperStops, (v + 15) / 30), 10.5)
	]
});
colorBar({ plotLeft: 462.7, plotRight: 477.3, plotTop: 441.7, plotBottom: 781.7, stops: copperStops, min: -15, max: 15, ticks: [-15, -10, -5, 0, 5, 10, 15], unit: 'dB' });
addLegend(365, 445.5, 448.5, 458, 374, 392, 395, '#a4ec9c', 'dashed');


/*
 * VECTOR WINDS
 */
const minutesPerMs = 6.43;
const headLength = 2.2;
const headAngle = 0.3;
const arrowPoints = [];
vectorMinutes.forEach((t, i) => {
	const u = vectorU[i], v = vectorV[i];
	const dir = Math.atan2(v, u);
	const tip = { x: t + u * minutesPerMs, y: v };
	const barb = a => ({ x: t + (u - headLength * Math.cos(dir + a)) * minutesPerMs, y: v - headLength * Math.sin(dir + a) });
	arrowPoints.push({ x: t, y: 0 }, tip, barb(headAngle), tip, barb(-headAngle), { x: t, y: NaN });
});

new Chart(addCanvas(620, 405, 550, 225), {
	type: 'line',
	data: {
		datasets: [{ data: arrowPoints, borderColor: '#0000ff', borderWidth: 2, pointRadius: 0, spanGaps: false, borderJoinStyle: 'miter' }]
	},
	options: {
		layout: { padding: { right: 44 } },
		plugins: {
			title: {
				display: true,
				text: 'Vector winds from HRDL Lidar at Height : 15m  AGL',
				color: '#333',
				font: { size: 8.5, weight: 'normal', lineHeight: 1.2 },
				padding: { top: 6.5, bottom: 5 }
			},
			box: { color: '#666', tick: 4 }
		},
		scales: {
			x: {
				type: 'linear',
				min: -40.5,
				max: 400.5,
				afterFit: s => { s.height = 25; },
				afterBuildTicks: s => { s.ticks = vectorTickMinutes.map(v => ({ value: v })); },
				grid: { display: false, drawTicks: false },
				border: { display: false },
				ticks: {
					padding: 3,
					font: { size: 8.6 },
					maxRotation: 0,
					autoSkip: false,
					callback: v => vectorTickLabels[vectorTickMinutes.indexOf(v)]
				}
			},
			y: {
				min: -15.1,
				max: 11.5,
				afterFit: s => { s.width = 44.3; },
				afterBuildTicks: s => { s.ticks = vectorValueTicks.map(v => ({ value: v })); },
				grid: { display: false, drawTicks: false },
				border: { display: false },
				ticks: { padding: 2, font: { size: 8.6 }, autoSkip: false, callback: v => v.toFixed(1) },
				title: {
					display: true,
					text: 'V Component  ms\u207B\u00B9',
					color: '#333',
					font: { size: 8.6, lineHeight: 1.2 },
					padding: { top: 9.8 }
				}
			}
		}
	},
	plugins: [boxPlugin]
});
addText(805, 619, 'Time UTC');
addText(909, 619, 'Starting Date :');
addText(973, 619, 'JD : 303');
addText(1019, 619, '10-30-2011');


/*
 * WIND ROSE
 */
const roseLabelPlugin = {
	id: 'roseLabels',
	afterDraw(chart) {
		const { ctx, scales } = chart;
		const r = scales.r;
		ctx.save();
		ctx.fillStyle = '#333';
		ctx.font = '8.6px "Liberation Sans", Arial, sans-serif';
		ctx.textAlign = 'center';
		ctx.textBaseline = 'middle';
		roseSpokes.forEach(a => {
			const p = r.getPointPositionForValue(roseLabels.indexOf(a), 11.5);
			ctx.fillText(String(a), p.x, p.y);
		});
		roseRings.forEach(ring => {
			const p = r.getPointPositionForValue(roseLabels.indexOf(70), ring[1]);
			ctx.fillText(String(ring[0]), p.x, p.y);
		});
		ctx.restore();
	}
};

new Chart(addCanvas(1115, 447, 140, 140), {
	type: 'radar',
	data: {
		labels: roseLabels.map(String),
		datasets: [{ data: roseRadius, borderColor: '#0000ff', backgroundColor: 'rgba(0,0,255,0.6)', fill: true, borderWidth: 2, pointRadius: 0 }]
	},
	options: {
		layout: { padding: 34 },
		scales: {
			r: {
				min: 0,
				max: 10,
				ticks: { display: false, stepSize: 5 },
				pointLabels: { display: false },
				grid: {
					circular: true,
					lineWidth: 1,
					color: ctx => ctx.tick && ctx.tick.value === 10 ? '#222' : '#999'
				},
				border: { dash: ctx => ctx.tick && ctx.tick.value === 10 ? [] : [1, 1.5] },
				angleLines: {
					color: ctx => ctx.index % 6 === 0 ? '#999' : 'transparent',
					borderDash: [1, 1.5]
				}
			}
		}
	},
	plugins: [roseLabelPlugin]
});

addText(1149, 459, '6 hour Wind Rose');
infoLines.forEach((line, i) => addText(1169, 566 + i * 10.1, line));

</script>
</body>
</html>
